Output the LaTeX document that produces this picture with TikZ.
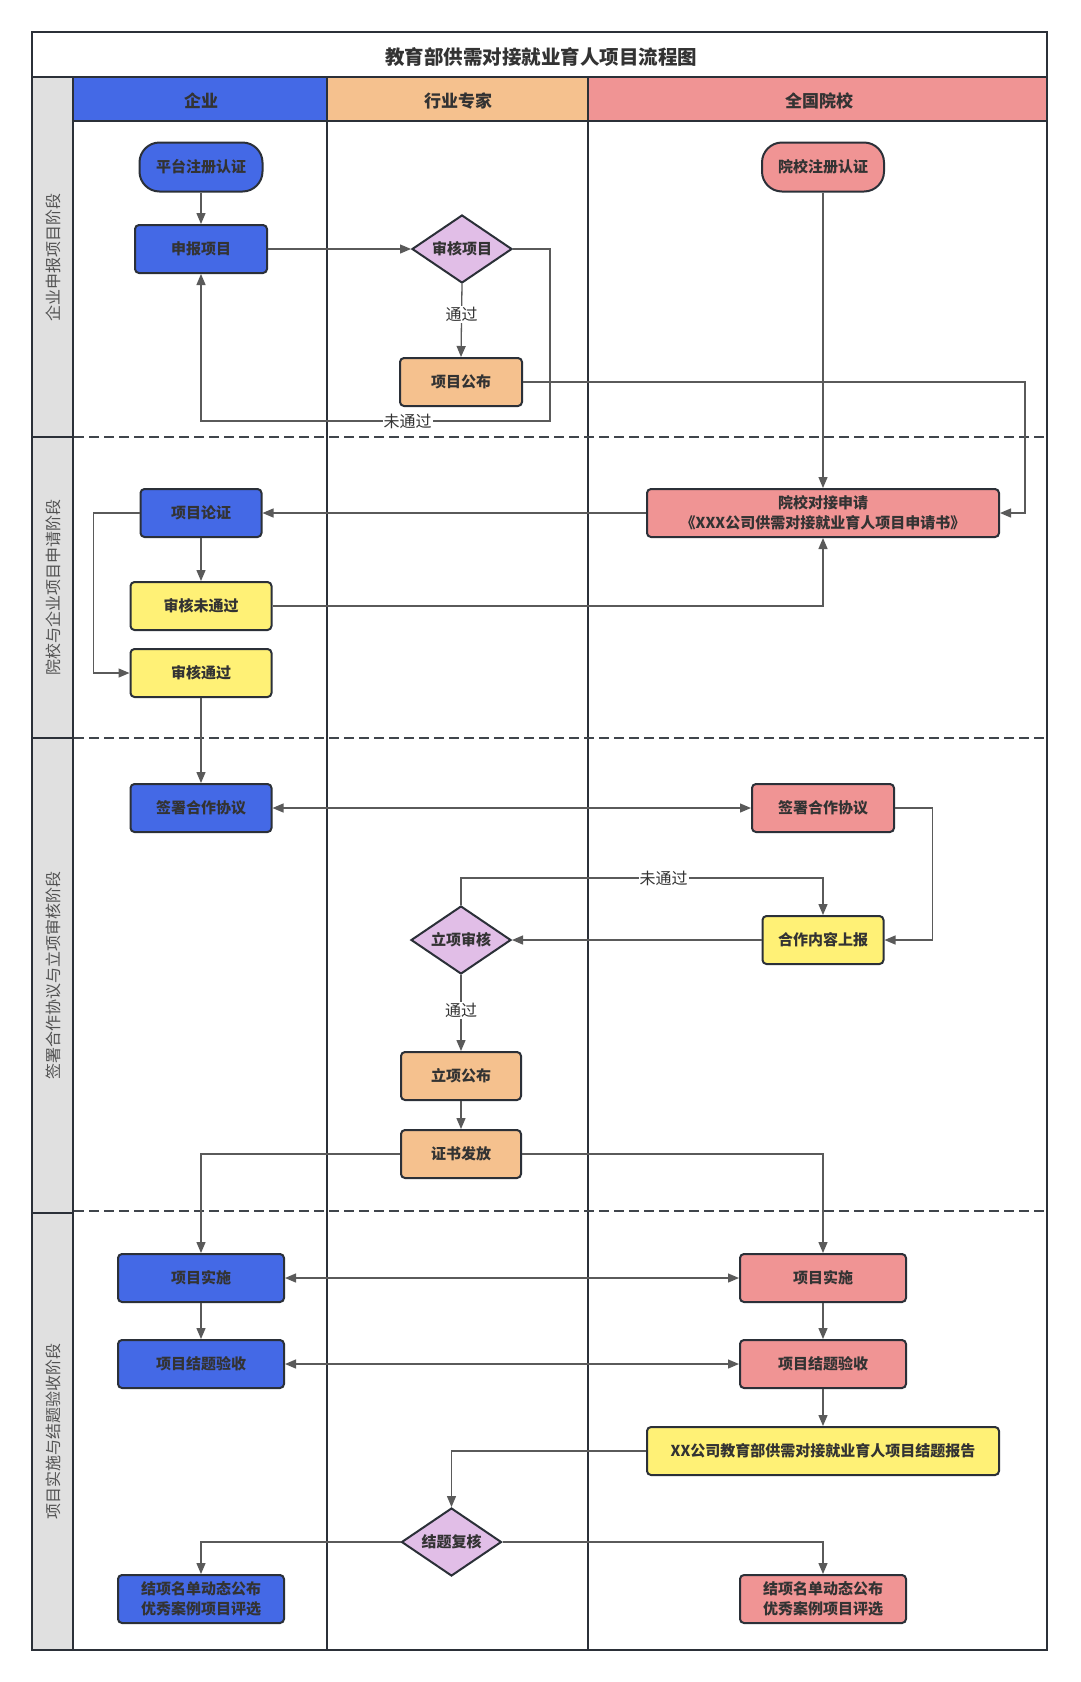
\documentclass[tikz,border=0pt]{standalone}
\usepackage{fontspec}
\setmainfont{Noto Sans CJK SC}
\usetikzlibrary{arrows.meta,shapes.geometric}
\definecolor{cblue}{HTML}{4469E6}
\definecolor{corange}{HTML}{F5C18E}
\definecolor{cpink}{HTML}{F09494}
\definecolor{cyellow}{HTML}{FFF176}
\definecolor{cviolet}{HTML}{E1BEE7}
\definecolor{cgrey}{HTML}{E0E0E0}
\definecolor{cstroke}{HTML}{2B3038}
\definecolor{cline}{HTML}{5A5A5A}
\definecolor{ctext}{HTML}{333333}
\tikzset{
  nbox/.style={draw=cstroke, line width=2pt, rounded corners=4pt, minimum height=48pt,
    inner sep=0pt, font=\fontsize{15}{20}\selectfont\bfseries, text=ctext, align=center},
  stadium/.style={nbox, rounded corners=20pt, minimum height=49pt},
  decision/.style={draw=cstroke, line width=2pt, diamond, aspect=1.47, fill=cviolet,
    minimum width=100pt, minimum height=68pt, inner sep=0pt,
    font=\fontsize{15}{20}\selectfont\bfseries, text=ctext},
  conn/.style={draw=cline, line width=1.3pt, -{Triangle[length=11pt,width=9pt]}},
  dconn/.style={draw=cline, line width=1.3pt, {Triangle[length=11pt,width=9pt]}-{Triangle[length=11pt,width=9pt]}},
  elabel/.style={fill=white, inner sep=1pt, font=\fontsize{16}{18}\selectfont, text=ctext},
  frame/.style={draw=cstroke, line width=2.2pt},
  lanetxt/.style={rotate=90, font=\fontsize{16}{18}\selectfont, text=ctext!85},
  headtxt/.style={font=\fontsize{17}{20}\selectfont\bfseries, text=ctext},
  sep/.style={draw=cstroke!90, line width=1.5pt, dash pattern=on 10pt off 5pt}
}
\begin{document}
\begin{tikzpicture}[x=1pt,y=-1pt]
\useasboundingbox (0,0) rectangle (1080,1682);
\fill[white] (0,0) rectangle (1080,1682);
% title
\draw[frame] (32,32) rectangle (1047,77);
\node[font=\fontsize{19.5}{22}\selectfont\bfseries, text=ctext] (title) at (541,57) {教育部供需对接就业育人项目流程图};
% lane label column
\draw[frame, fill=cgrey] (32,77) rectangle (73,437);
\draw[frame, fill=cgrey] (32,437) rectangle (73,738);
\draw[frame, fill=cgrey] (32,738) rectangle (73,1213);
\draw[frame, fill=cgrey] (32,1213) rectangle (73,1650);
\node[lanetxt] (l1) at (53,257) {企业申报项目阶段};
\node[lanetxt] (l2) at (53,587) {院校与企业项目申请阶段};
\node[lanetxt] (l3) at (53,975) {签署合作协议与立项审核阶段};
\node[lanetxt] (l4) at (53,1431) {项目实施与结题验收阶段};
% headers
\draw[frame, fill=cblue] (73,77) rectangle (327,121);
\draw[frame, fill=corange] (327,77) rectangle (588,121);
\draw[frame, fill=cpink] (588,77) rectangle (1047,121);
\node[headtxt] (h1) at (201,101) {企业};
\node[headtxt] (h2) at (458,101) {行业专家};
\node[headtxt] (h3) at (819,101) {全国院校};
% columns
\draw[frame] (73,121) rectangle (327,1650);
\draw[frame] (327,121) rectangle (588,1650);
\draw[frame] (588,121) rectangle (1047,1650);
% stage separators
\draw[sep] (74,437) -- (1046,437);
\draw[sep] (74,738) -- (1046,738);
\draw[sep] (74,1211) -- (1046,1211);

% ---- nodes
\node[stadium, fill=cblue, minimum width=123pt] (reg1) at (201,167) {平台注册认证};
\node[nbox, fill=cblue, minimum width=132pt] (apply) at (201,249) {申报项目};
\node[decision] (review) at (462,249) {审核项目};
\node[nbox, fill=corange, minimum width=122pt] (publish) at (461,382) {项目公布};
\node[stadium, fill=cpink, minimum width=122pt] (reg2) at (823,167) {院校注册认证};
\node[nbox, fill=cpink, minimum width=352pt] (schoolapp) at (823,513) {院校对接申请\\《XXX公司供需对接就业育人项目申请书》};
\node[nbox, fill=cblue, minimum width=121pt] (demo) at (201,513) {项目论证};
\node[nbox, fill=cyellow, minimum width=141pt] (fail) at (201,606) {审核未通过};
\node[nbox, fill=cyellow, minimum width=141pt] (pass) at (201,673) {审核通过};
\node[nbox, fill=cblue, minimum width=141pt] (signA) at (201,808) {签署合作协议};
\node[nbox, fill=cpink, minimum width=142pt] (signB) at (823,808) {签署合作协议};
\node[nbox, fill=cyellow, minimum width=121pt] (report) at (823,940) {合作内容上报};
\node[decision] (lxreview) at (461,940) {立项审核};
\node[nbox, fill=corange, minimum width=120pt] (lxpub) at (461,1076) {立项公布};
\node[nbox, fill=corange, minimum width=120pt] (cert) at (461,1154) {证书发放};
\node[nbox, fill=cblue, minimum width=166pt] (implA) at (201,1278) {项目实施};
\node[nbox, fill=cpink, minimum width=166pt] (implB) at (823,1278) {项目实施};
\node[nbox, fill=cblue, minimum width=166pt] (accA) at (201,1364) {项目结题验收};
\node[nbox, fill=cpink, minimum width=166pt] (accB) at (823,1364) {项目结题验收};
\node[nbox, fill=cyellow, minimum width=352pt] (finrep) at (823,1451) {XX公司教育部供需对接就业育人项目结题报告};
\node[decision] (finrev) at (451.5,1542) {结题复核};
\node[nbox, fill=cblue, minimum width=166pt] (finA) at (201,1599) {结项名单动态公布\\优秀案例项目评选};
\node[nbox, fill=cpink, minimum width=166pt] (finB) at (823,1599) {结项名单动态公布\\优秀案例项目评选};

% ---- connectors
\draw[conn] (reg1) -- (apply);
\draw[conn] (apply.east) -- (review.west);
\draw[conn] (review.south) -- node[elabel, pos=0.42]{通过} (publish.north);
\draw[conn] (review.east) -- (550,249) -- (550,421) -| node[elabel, pos=0.204]{未通过} (apply.south);
\draw[conn] (publish.east) -- (1025,382) |- (schoolapp.east);
\draw[conn] (reg2.south) -- (schoolapp.north);
\draw[conn] (schoolapp.west) -- (demo.east);
\draw[conn] (demo.south) -- (fail.north);
\draw[conn] (fail.east) -| (schoolapp.south);
\draw[conn] (demo.west) -- (93.5,513) |- (pass.west);
\draw[conn] (pass.south) -- (signA.north);
\draw[dconn] (signA.east) -- (signB.west);
\draw[conn] (signB.east) -- (932.5,808) |- (report.east);
\draw[conn] (report.west) -- (lxreview.east);
\draw[conn] (lxreview.north) -- (461,878) -| node[elabel, pos=0.28]{未通过} (report.north);
\draw[conn] (lxreview.south) -- node[elabel, pos=0.47]{通过} (lxpub.north);
\draw[conn] (lxpub.south) -- (cert.north);
\draw[conn] (cert.west) -| (implA.north);
\draw[conn] (cert.east) -| (implB.north);
\draw[dconn] (implA.east) -- (implB.west);
\draw[conn] (implA.south) -- (accA.north);
\draw[conn] (implB.south) -- (accB.north);
\draw[dconn] (accA.east) -- (accB.west);
\draw[conn] (accB.south) -- (finrep.north);
\draw[conn] (finrep.west) -| (finrev.north);
\draw[conn] (finrev.west) -| (finA.north);
\draw[conn] (finrev.east) -| (finB.north);
\end{tikzpicture}
\end{document}
